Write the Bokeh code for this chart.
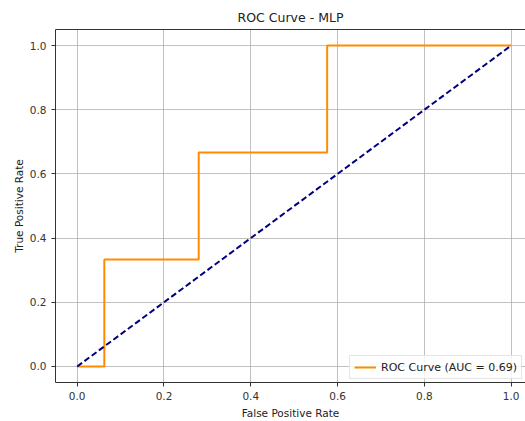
from bokeh.plotting import figure
from bokeh.models import Range1d, FixedTicker, NumeralTickFormatter, LinearAxis, Legend, LegendItem
from bokeh.embed import file_html
from bokeh.resources import INLINE

fpr = [0.0, 0.0625, 0.0625, 0.28, 0.28, 0.576, 0.576, 1.0]
tpr = [0.0, 0.0, 0.333, 0.333, 0.667, 0.667, 1.0, 1.0]
diag_x = [0.0, 1.0]
diag_y = [0.0, 1.0]
ticks = [0.0, 0.2, 0.4, 0.6, 0.8, 1.0]
auc_label = "ROC Curve (AUC = 0.69)"

FONT = "DejaVu Sans"
p = figure(width=525, height=421, output_backend="svg", toolbar_location=None,
           x_range=Range1d(-0.05, 1.033), y_range=Range1d(-0.05, 1.05),
           min_border_left=55, min_border_right=0, min_border_top=29, min_border_bottom=38)
p.title.text = "ROC Curve - MLP"
p.title.align = "center"
p.title.text_font = FONT
p.title.text_font_size = "12.5px"
p.title.text_font_style = "normal"
p.title.text_color = "#222222"
p.title.standoff = 9
p.outline_line_color = None

for ax in (p.xaxis[0], p.yaxis[0]):
    ax.ticker = FixedTicker(ticks=ticks)
    ax.formatter = NumeralTickFormatter(format="0.0")
    ax.major_label_text_font = FONT
    ax.major_label_text_font_size = "10.5px"
    ax.major_label_text_color = "#333333"
    ax.axis_label_text_font = FONT
    ax.axis_label_text_font_size = "10.5px"
    ax.axis_label_text_font_style = "normal"
    ax.axis_label_text_color = "#222222"
    ax.minor_tick_line_color = None
    ax.major_tick_out = 4
    ax.major_tick_in = 0
    ax.axis_line_color = "#333333"
    ax.major_tick_line_color = "#333333"
p.xaxis[0].axis_label = "False Positive Rate"
p.yaxis[0].axis_label = "True Positive Rate"
p.xaxis[0].axis_label_standoff = 4
p.yaxis[0].axis_label_standoff = 2

top = LinearAxis(ticker=FixedTicker(ticks=[]), major_tick_line_color=None,
                 minor_tick_line_color=None, axis_line_color="#333333")
p.add_layout(top, "above")

p.xgrid.ticker = FixedTicker(ticks=ticks)
p.ygrid.ticker = FixedTicker(ticks=ticks)
p.grid.grid_line_color = "#b0b0b0"
p.grid.grid_line_width = 0.8

r1 = p.line(fpr, tpr, line_color="#ff8c00", line_width=2)
p.line(diag_x, diag_y, line_color="#000080", line_width=2, line_dash="6 3")

legend = Legend(items=[LegendItem(label=auc_label, renderers=[r1])], location="bottom_right")
legend.label_text_font = FONT
legend.label_text_font_size = "11px"
legend.label_text_color = "#222222"
legend.border_line_color = "#cccccc"
legend.background_fill_alpha = 0.8
legend.padding = 4
legend.spacing = 0
legend.margin = 3
legend.glyph_width = 22
legend.label_height = 14
legend.glyph_height = 14
p.add_layout(legend)

open("out.html", "w").write(file_html(p, INLINE))
